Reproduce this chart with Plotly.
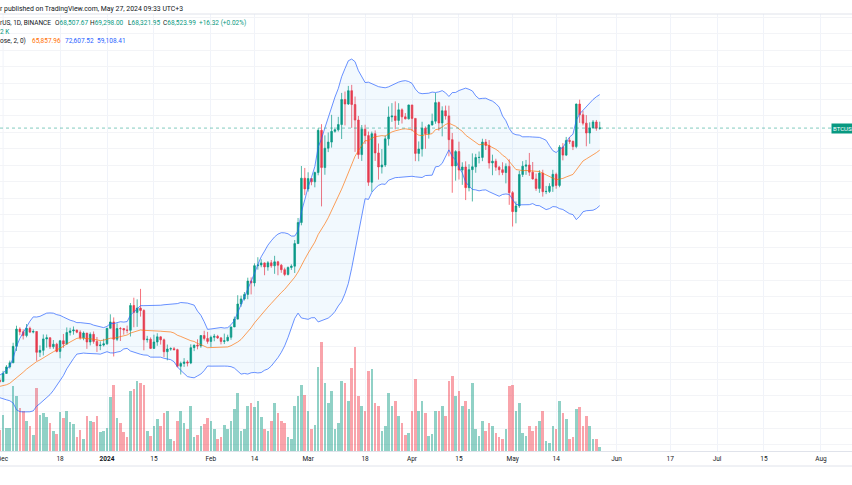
import numpy as np
import pandas as pd
import plotly.graph_objects as go

# ---------------- data (BTC/USDT daily, Binance) ----------------
# closes Nov 11 .. Nov 29 2023 (off-screen, only used as Bollinger warm-up)
warmup_close = [37130, 37064, 36462, 35551, 37858, 36163, 36596, 36568, 37359, 37448,
                35741, 37420, 37290, 37720, 37796, 37454, 37242, 37823, 37855]
first_open = 37855

high_nov = [38170]
low_nov = [37500]
close_nov = [37712]

high_dec = [38999, 39700, 40250, 42420, 44490, 44300, 44050, 44700, 44380, 44050,
            43800, 42100, 43430, 43420, 43090, 42750, 42420, 42760, 43490, 44280,
            44240, 44400, 43990, 43940, 43800, 43600, 43680, 43790, 43120, 42590, 42900]
low_dec = [37615, 38650, 39280, 39980, 41420, 43330, 42820, 43080, 43590, 43560,
           40220, 40680, 40870, 41820, 41660, 41680, 41250, 40530, 41800, 42180,
           43300, 43400, 43580, 42800, 42720, 41680, 42100, 42300, 41300, 41520, 41970]
close_dec = [38688, 39476, 39978, 41980, 44080, 43747, 43292, 44170, 43713, 43789,
             41253, 41493, 42887, 43023, 41930, 42241, 41365, 42659, 42259, 43664,
             43861, 43970, 43702, 43017, 43599, 42514, 43442, 42582, 42067, 42140, 42283]

high_jan = [44190, 45879, 45500, 44770, 44340, 44220, 44500, 47250, 47900, 47700,
            48970, 46500, 43260, 43070, 43400, 43580, 43200, 42930, 42200, 41870,
            41900, 41690, 40130, 40550, 40290, 42230, 42200, 42840, 43310, 43880, 43740]
low_jan = [42180, 44150, 40750, 42620, 42630, 43400, 43560, 43180, 44300, 44350,
           45600, 41500, 42440, 41720, 41720, 42050, 42200, 40680, 40280, 41450,
           41500, 39430, 38555, 39480, 39540, 39820, 41400, 41620, 41800, 42690, 42300]
close_jan = [44179, 44946, 42845, 44151, 44145, 43968, 43929, 46951, 46110, 46633,
             46340, 42782, 42847, 41732, 42511, 43137, 42776, 41327, 41659, 41696,
             41580, 39568, 39897, 40084, 39961, 41823, 42120, 42031, 43302, 42941, 42580]

high_feb = [43290, 43490, 43380, 43120, 43530, 43400, 44380, 45600, 48200, 48150,
            48590, 50330, 50370, 52080, 52820, 52580, 52190, 52350, 52480, 52990,
            52380, 52000, 51550, 51700, 51960, 54910, 57590, 63913, 63676]
low_feb = [41880, 42600, 42880, 42220, 42260, 42580, 42780, 44330, 45250, 46800,
           47560, 47710, 48300, 49270, 51310, 51600, 50630, 51180, 51540, 50800,
           50630, 50930, 50520, 50600, 51280, 50900, 54440, 56700, 60360]
close_feb = [43082, 43200, 43011, 42583, 42658, 43084, 44339, 45293, 47132, 47751,
             48299, 49917, 49699, 51795, 51880, 52125, 51642, 52137, 51774, 52258,
             51849, 51304, 50731, 51571, 51733, 54477, 57037, 62432, 61130]

high_mar = [63150, 62440, 63230, 68500, 69000, 67640, 67990, 70136, 68600, 69890,
            72800, 72970, 73650, 73777, 72360, 70000, 68900, 68930, 68100, 68100,
            68240, 66650, 65970, 67620, 71150, 71560, 71770, 71550, 70920, 70350, 71370]
low_mar = [60800, 61570, 61320, 62780, 59005, 62850, 65600, 66150, 67960, 68100,
           67194, 68850, 71330, 68550, 65630, 64780, 64530, 66580, 61500, 60775,
           64530, 62260, 63000, 63790, 66390, 69280, 68380, 68900, 69080, 69580, 69570]
close_mar = [62387, 61987, 63113, 68245, 63724, 66074, 66823, 68124, 68313, 68955,
             72000, 71452, 73072, 71388, 69499, 65300, 68393, 67609, 61937, 67840,
             65501, 63797, 64037, 67211, 69880, 69987, 69455, 70744, 69892, 69645, 71333]

high_apr = [71340, 69710, 66900, 69290, 68720, 69010, 70280, 72797, 71760, 71170,
            71260, 71250, 67930, 65840, 66870, 64360, 64480, 64130, 65450, 65390,
            65680, 67230, 67200, 67070, 65290, 64800, 63920, 64370, 64230, 64730]
low_apr = [68140, 64500, 64490, 65060, 66010, 67240, 68850, 69050, 68210, 67520,
           69550, 65086, 60660, 62130, 62270, 61620, 59770, 60830, 59600, 63090,
           64230, 64500, 65860, 63600, 62790, 63330, 62790, 62800, 61800, 59190]
close_apr = [69702, 65446, 65980, 68508, 67838, 68896, 69360, 71620, 69146, 70631,
             70006, 67117, 63924, 65662, 63420, 63793, 61277, 63470, 63818, 64941,
             64960, 66819, 66414, 64289, 64498, 63770, 63461, 63119, 63866, 60672]

high_may = [60860, 59600, 63330, 64500, 64650, 65500, 64400, 62990, 63400, 63460,
            61490, 61820, 63450, 63100, 66450, 66700, 67450, 67400, 67000, 71500,
            71979, 70620, 70100, 69220, 69500, 69510, 69298.00]
low_may = [56552, 56940, 58810, 62580, 62840, 62710, 62270, 60890, 60650, 60190,
           60490, 60630, 60760, 61150, 61330, 64600, 65120, 66600, 65850, 66070,
           69160, 68850, 66312, 66620, 68480, 68200, 68321.95]
close_may = [58364, 59060, 62882, 63892, 64031, 63162, 62335, 61187, 63049, 60793,
             60825, 61448, 62901, 61552, 66207, 65235, 67025, 66913, 66274, 71446,
             70137, 69122, 67929, 68526, 69265, 68507.67, 68523.99]

# volume, thousand BTC
vol_nov = [21]
vol_dec = [36, 23, 23, 65, 55, 43, 40, 30, 25, 16, 63, 36, 38, 34, 28, 20, 17, 39, 33, 40,
           29, 27, 14, 21, 12, 35, 30, 29, 35, 19, 20]
vol_jan = [23, 54, 66, 33, 28, 19, 14, 60, 62, 70, 68, 66, 20, 15, 25, 32, 25, 38, 40, 12,
           10, 30, 40, 28, 22, 45, 14, 16, 25, 27, 33]
vol_feb = [30, 22, 12, 14, 26, 22, 30, 42, 58, 20, 22, 45, 48, 44, 50, 34, 22, 20, 30, 48,
           38, 30, 28, 14, 12, 45, 55, 66, 56]
vol_mar = [40, 22, 26, 84, 109, 68, 48, 60, 22, 28, 70, 68, 50, 83, 104, 55, 45, 40, 80, 82,
           48, 45, 20, 25, 58, 45, 50, 35, 28, 16, 18]
vol_apr = [40, 72, 40, 50, 38, 15, 17, 40, 40, 45, 35, 70, 75, 55, 60, 45, 50, 42, 68, 22,
           15, 30, 20, 28, 25, 18, 14, 12, 22, 65]
vol_may = [66, 40, 48, 18, 15, 25, 20, 25, 30, 40, 10, 8, 25, 22, 50, 38, 32, 12, 14, 42,
           44, 25, 35, 25, 12, 12, 4]

tick_dates = ["2023-12-18", "2024-01-01", "2024-01-15", "2024-02-01",
              "2024-02-14", "2024-03-01", "2024-03-18", "2024-04-01", "2024-04-15",
              "2024-05-01", "2024-05-14", "2024-06-01", "2024-06-17", "2024-07-01",
              "2024-07-15", "2024-08-01"]
tick_text = ["18", "<b>2024</b>", "15", "Feb", "14", "Mar", "18", "Apr", "15",
             "May", "14", "Jun", "17", "Jul", "15", "Aug"]
edge_tick_date = "2023-12-01"
edge_tick_text = "Dec"

# ---------------- assemble ----------------
high = high_nov + high_dec + high_jan + high_feb + high_mar + high_apr + high_may
low = low_nov + low_dec + low_jan + low_feb + low_mar + low_apr + low_may
close = close_nov + close_dec + close_jan + close_feb + close_mar + close_apr + close_may
vol = vol_nov + vol_dec + vol_jan + vol_feb + vol_mar + vol_apr + vol_may
opens = [first_open] + close[:-1]
dates = pd.date_range("2023-11-30", periods=len(close), freq="D")

s = pd.Series(warmup_close + close, dtype=float)
n_w = len(warmup_close)
basis = s.rolling(20).mean().to_numpy()[n_w:]
sd = s.rolling(20).std(ddof=0).to_numpy()[n_w:]
upper = basis + 2 * sd
lower = basis - 2 * sd

UP = "#089981"
DN = "#f23645"
vol_colors = ["rgba(8,153,129,0.45)" if c >= o else "rgba(242,54,69,0.45)"
              for o, c in zip(opens, close)]

W, H = 852, 485
PT, PB = 14, 451          # plot area top / bottom in px
PH = PB - PT

def py(ypx):
    return (PB - ypx) / PH

def px(xpx):
    return xpx / W

fig = go.Figure()
fig.add_trace(go.Bar(x=dates, y=vol, marker=dict(color=vol_colors, line=dict(width=0)),
                     width=0.78 * 86400000, yaxis="y", hoverinfo="skip"))
fig.add_trace(go.Scatter(x=dates, y=upper, mode="lines", yaxis="y2",
                         line=dict(color="rgba(41,98,255,0.7)", width=1), hoverinfo="skip"))
fig.add_trace(go.Scatter(x=dates, y=lower, mode="lines", yaxis="y2", fill="tonexty",
                         fillcolor="rgba(33,150,243,0.06)",
                         line=dict(color="rgba(41,98,255,0.7)", width=1), hoverinfo="skip"))
fig.add_trace(go.Scatter(x=dates, y=basis, mode="lines", yaxis="y2",
                         line=dict(color="rgba(255,109,0,0.65)", width=1), hoverinfo="skip"))
fig.add_trace(go.Candlestick(x=dates, open=opens, high=high, low=low, close=close, yaxis="y2",
                             increasing=dict(line=dict(color=UP, width=0.7), fillcolor=UP),
                             decreasing=dict(line=dict(color=DN, width=0.7), fillcolor=DN),
                             hoverinfo="skip"))

ppd = 3.352  # px per day
jan1 = pd.Timestamp("2024-01-01")
x0 = jan1 - pd.Timedelta(days=107 / ppd)
x1 = jan1 + pd.Timedelta(days=(W - 107) / ppd)

font = "Roboto, Arial, sans-serif"
FS = 6.5
fig.update_layout(
    width=W, height=H, showlegend=False,
    margin=dict(l=0, r=0, t=PT, b=H - PB),
    paper_bgcolor="white", plot_bgcolor="white",
    font=dict(family=font, color="#131722", size=FS),
    xaxis=dict(type="date", range=[x0, x1], tickvals=tick_dates, ticktext=tick_text,
               showgrid=True, gridcolor="#f0f3fa", gridwidth=1, zeroline=False,
               showline=True, linecolor="#e0e3eb", linewidth=1,
               ticks="outside", ticklen=1, tickcolor="rgba(0,0,0,0)",
               tickfont=dict(size=FS, color="#131722", family=font),
               rangeslider=dict(visible=False), fixedrange=True),
    yaxis=dict(range=[0, PH], visible=False, showgrid=False, fixedrange=True),
    yaxis2=dict(overlaying="y", range=[29256, 82396], dtick=2000, tick0=0,
                showgrid=True, gridcolor="#f3f4f7", gridwidth=1, zeroline=False,
                showticklabels=False, ticks="", side="right", fixedrange=True),
    bargap=0,
)

# pane borders
fig.add_shape(type="line", xref="paper", yref="paper", x0=0, x1=1, y0=1, y1=1,
              line=dict(color="#e0e3eb", width=1))
fig.add_shape(type="line", xref="paper", yref="paper", x0=0, x1=1, y0=py(466), y1=py(466),
              line=dict(color="#e0e3eb", width=1))
# grid line of the edge tick (Dec)
fig.add_shape(type="line", xref="x", yref="paper", x0=edge_tick_date, x1=edge_tick_date,
              y0=0, y1=1, line=dict(color="#f0f3fa", width=1), layer="below")
# last price line
fig.add_shape(type="line", xref="paper", yref="y2", x0=0, x1=1, y0=close[-1], y1=close[-1],
              line=dict(color="rgba(8,153,129,0.5)", width=1, dash="dot"))

annos = []
def txt(x, y, t, color="#131722", size=FS, anchor="left"):
    annos.append(dict(xref="paper", yref="paper", x=px(x), y=py(y), text=t, showarrow=False,
                      xanchor=anchor, yanchor="middle", borderpad=0,
                      font=dict(size=size, color=color, family=font)))

txt(-1.5, 9.5, "r published on TradingView.com, May 27, 2024 09:33 UTC+3", size=6.9)
txt(-1.5, 23, "rUS, 1D, BINANCE")
txt(53.5, 23, "O<span style='color:%s'>68,507.67</span>" % UP)
txt(88.5, 23, "H<span style='color:%s'>69,298.00</span>" % UP)
txt(126.5, 23, "L<span style='color:%s'>68,321.95</span>" % UP)
txt(161.5, 23, "C<span style='color:%s'>68,523.99</span>" % UP)
txt(198, 23, "+16.32 (+0.02%)", color=UP)
txt(-1, 32, "2 K", color=UP)
txt(-1.5, 41.5, "ose, 2, 0)")
txt(30.5, 41.5, "65,857.96", color="#ff6d00")
txt(63.5, 41.5, "72,607.52", color="#2962ff")
txt(95.5, 41.5, "59,108.41", color="#2962ff")
# edge time-axis label (partly cut at the left edge, as in the source screenshot)
annos.append(dict(xref="x", yref="paper", x=edge_tick_date, y=py(459), text=edge_tick_text,
                  showarrow=False, xanchor="center", yanchor="middle", borderpad=0,
                  font=dict(size=FS, color="#131722", family=font)))
# symbol tag on the price scale
annos.append(dict(xref="paper", yref="y2", x=px(831), y=close[-1], text="BTCUSDT",
                  showarrow=False, xanchor="left", yanchor="middle", bgcolor=UP,
                  borderpad=1, font=dict(size=6, color="white", family=font)))
fig.update_layout(annotations=annos)

fig.write_html("out.html")
